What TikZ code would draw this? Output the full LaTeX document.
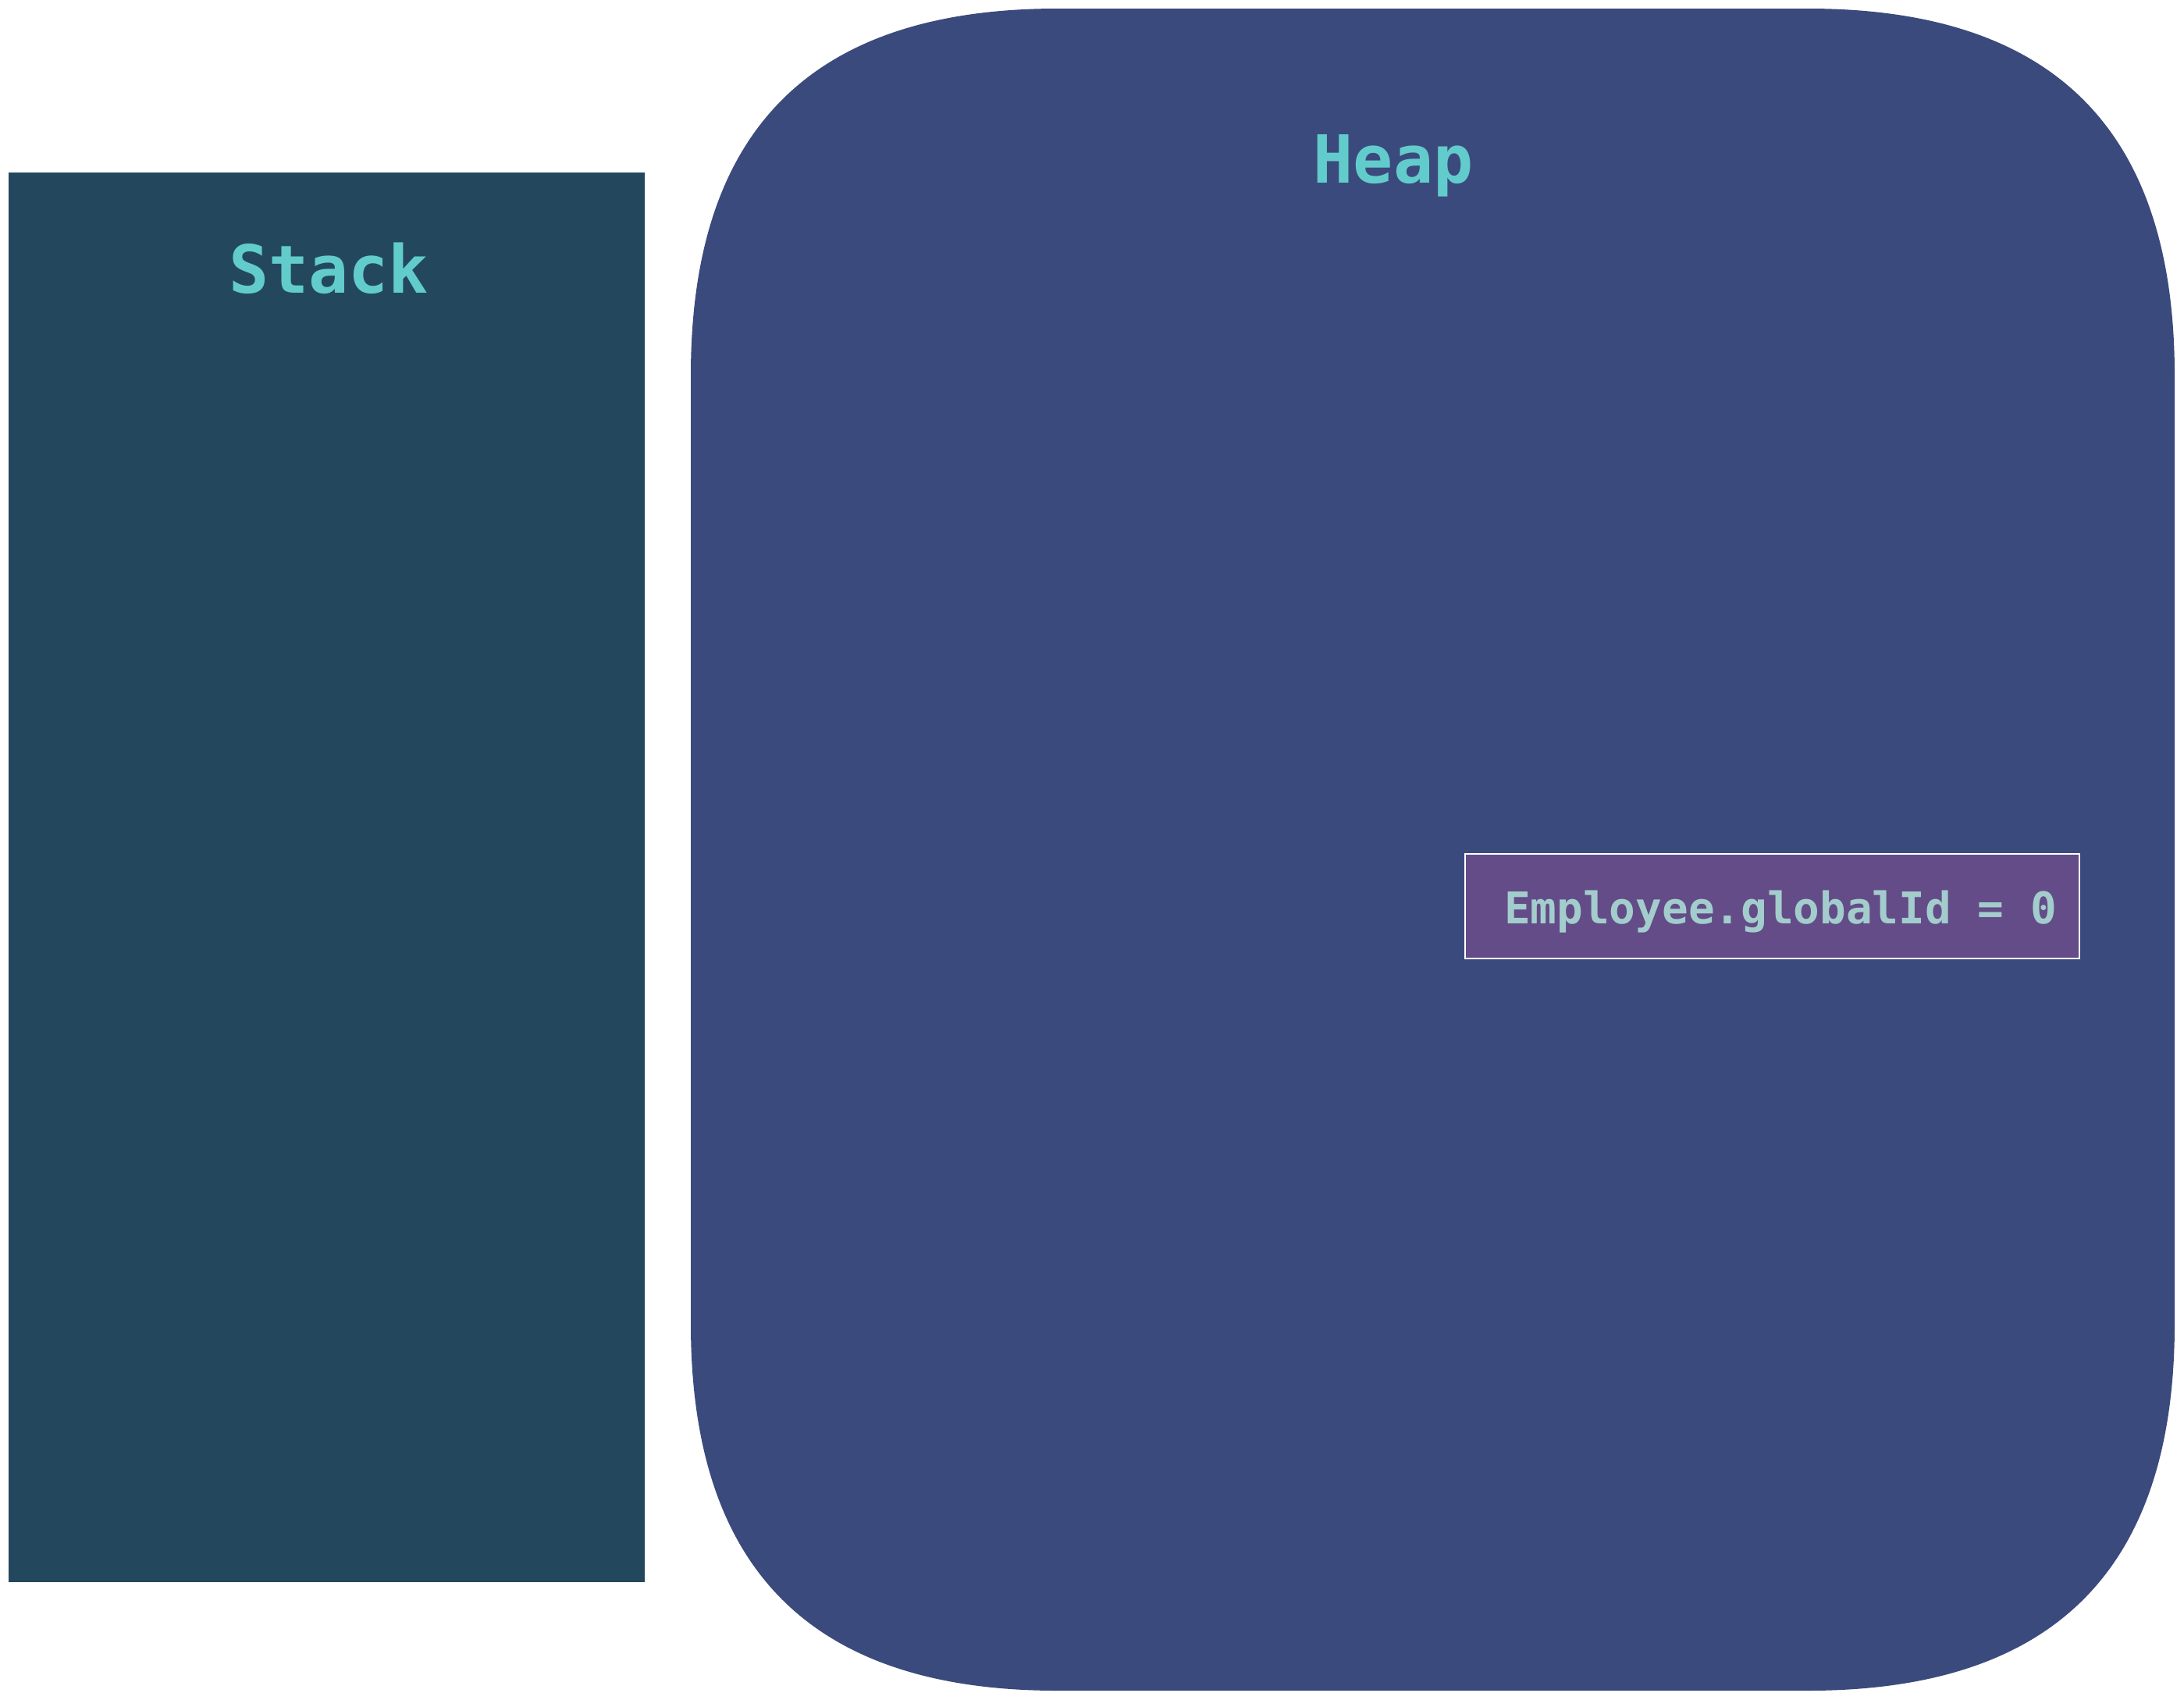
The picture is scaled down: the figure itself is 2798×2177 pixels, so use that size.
\documentclass[tikz,border=0pt]{standalone}
\usepackage{fontspec}
\newfontfamily\monofont{DejaVu Sans Mono}
\definecolor{stackc}{HTML}{23485E}
\definecolor{heapc}{HTML}{3B4A7C}
\definecolor{boxc}{HTML}{634C87}
\definecolor{titlec}{HTML}{62CCCC}
\definecolor{textc}{HTML}{A3CDCD}
\begin{document}
\begin{tikzpicture}[x=1pt,y=-1pt,
  title/.style={text=titlec,font=\monofont\bfseries\fontsize{85}{100}\selectfont,anchor=base,inner sep=0pt},
  vartext/.style={text=textc,font=\monofont\bfseries\fontsize{56}{66}\selectfont,anchor=base,inner sep=0pt}]
\useasboundingbox (0,0) rectangle (2798,2177);
\fill[white] (0,0) rectangle (2798,2177);
% stack
\fill[stackc] (11,221) rectangle (826,2027);
\node[title] (stack) at (421,375) {Stack};
% heap (squircle-like rounded rectangle)
\def\hL{885}\def\hT{11}\def\hR{2786}\def\hB{2166}\def\hr{470}\def\hc{155}
\fill[heapc] (\hL,\hT+\hr) .. controls (\hL,\hT+\hc) and (\hL+\hc,\hT) .. (\hL+\hr,\hT)
  -- (\hR-\hr,\hT) .. controls (\hR-\hc,\hT) and (\hR,\hT+\hc) .. (\hR,\hT+\hr)
  -- (\hR,\hB-\hr) .. controls (\hR,\hB-\hc) and (\hR-\hc,\hB) .. (\hR-\hr,\hB)
  -- (\hL+\hr,\hB) .. controls (\hL+\hc,\hB) and (\hL,\hB-\hc) .. (\hL,\hB-\hr) -- cycle;
\node[title] (heap) at (1785,234) {Heap};
% variable box
\node[draw=white,line width=2pt,fill=boxc,minimum width=787pt,minimum height=134pt,inner sep=0pt] (box) at (2270.5,1161) {};
\node[vartext] (var) at (2281,1183) {Employee.globalId = 0};
\end{tikzpicture}
\end{document}
